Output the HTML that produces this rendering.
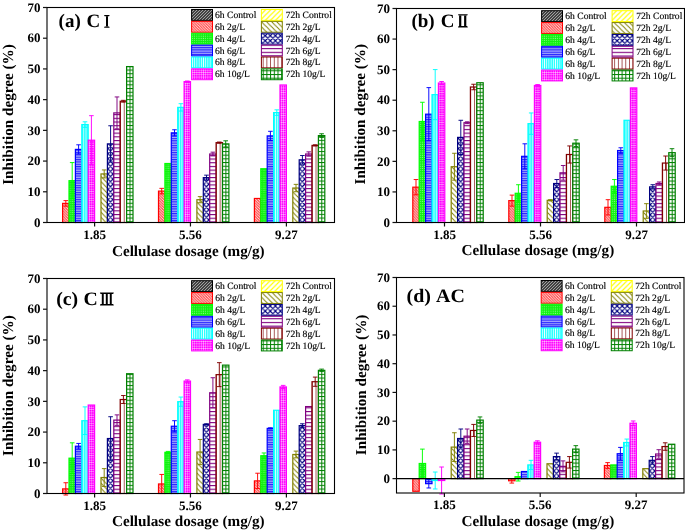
<!DOCTYPE html>
<html><head><meta charset="utf-8"><style>
html,body{margin:0;padding:0;background:#fff;}
svg{display:block;}
text{font-family:"Liberation Serif",serif;fill:#000;}
svg{will-change:transform;} text{text-rendering:geometricPrecision;}
.tk{font-size:13px;font-weight:bold;}
.ti{font-size:15.2px;font-weight:bold;}
.lb{font-size:19px;font-weight:bold;}
.lg{font-size:9.6px;fill:#000;stroke:#000;stroke-width:0.15px;}
</style></head><body>
<svg width="685" height="531" viewBox="0 0 685 531">
<rect width="685" height="531" fill="#fff"/>
<defs><pattern id="p0" patternUnits="userSpaceOnUse" width="3" height="3"><rect width="3" height="3" fill="#1a1a1a"/><path d="M-1,1 L1,-1 M0,3 L3,0 M2,4 L4,2" stroke="#a8a8a8" stroke-width="1.1"/></pattern><pattern id="p1" patternUnits="userSpaceOnUse" width="2.7" height="2.7"><rect width="2.7" height="2.7" fill="#ff0000"/><path d="M-1,1.7 L1,3.7 M0,0 L2.7,2.7 M1.7,-1 L3.7,1" stroke="#ffd8d8" stroke-width="1.15"/></pattern><pattern id="p2" patternUnits="userSpaceOnUse" width="2.2" height="2.2"><rect width="2.2" height="2.2" fill="#10f010"/><rect x="0.5" y="0.5" width="0.9" height="0.9" fill="#98ff98"/></pattern><pattern id="p3" patternUnits="userSpaceOnUse" width="2.35" height="2.35"><rect width="2.35" height="2.35" fill="#2828ff"/><rect y="1.2" width="2.35" height="1.0" fill="#c0c0ff"/></pattern><pattern id="p4" patternUnits="userSpaceOnUse" width="2.2" height="2"><rect width="2.2" height="2" fill="#00ffff"/><rect x="0.6" width="1.0" height="2" fill="#e8ffff"/></pattern><pattern id="p5" patternUnits="userSpaceOnUse" width="2.2" height="2.3"><rect width="2.2" height="2.3" fill="#ff00ff"/><rect x="0.7" width="0.6" height="2.3" fill="#ff90ff"/><rect y="0.8" width="2.2" height="0.6" fill="#ff90ff"/><rect x="0.7" y="0.8" width="0.6" height="0.6" fill="#ffd8ff"/></pattern><pattern id="p6" patternUnits="userSpaceOnUse" width="5.1" height="5.1"><rect width="5.1" height="5.1" fill="#fff"/><path d="M-1,1 L1,-1 M0,5.1 L5.1,0 M4.1,6.1 L6.1,4.1" stroke="#ffff00" stroke-width="1.15"/></pattern><pattern id="p7" patternUnits="userSpaceOnUse" width="5.1" height="5.1"><rect width="5.1" height="5.1" fill="#fff"/><path d="M-1,4.1 L1,6.1 M0,0 L5.1,5.1 M4.1,-1 L6.1,1" stroke="#808000" stroke-width="1.0"/></pattern><pattern id="p8" patternUnits="userSpaceOnUse" width="5.1" height="5.1"><rect width="5.1" height="5.1" fill="#fff"/><path d="M0,0 L5.1,5.1 M5.1,0 L0,5.1 M-1,1 L1,-1 M4.1,6.1 L6.1,4.1 M-1,4.1 L1,6.1 M4.1,-1 L6.1,1" stroke="#000080" stroke-width="1.15"/></pattern><pattern id="p9" patternUnits="userSpaceOnUse" width="3.7" height="3.7"><rect width="3.7" height="3.7" fill="#fff"/><rect y="0" width="3.7" height="1.1" fill="#800080"/></pattern><pattern id="p10" patternUnits="userSpaceOnUse" width="3.7" height="3.7"><rect width="3.7" height="3.7" fill="#fff"/><rect x="0" width="0.9" height="3.7" fill="#a04848"/></pattern><pattern id="p11" patternUnits="userSpaceOnUse" width="3.7" height="3.7"><rect width="3.7" height="3.7" fill="#fff"/><rect width="3.7" height="1.0" fill="#008000"/><rect width="1.0" height="3.7" fill="#008000"/></pattern></defs><pattern id="a0_1" href="#p1" x="62.6" y="222.5"/><rect x="62.6" y="203.38" width="6.4" height="19.12" fill="url(#a0_1)" stroke="#ff0000" stroke-width="1.2"/><pattern id="a0_2" href="#p2" x="69" y="222.5"/><rect x="69" y="180.68" width="6.4" height="41.82" fill="url(#a0_2)" stroke="#00ff00" stroke-width="1.2"/><pattern id="a0_3" href="#p3" x="75.4" y="222.5"/><rect x="75.4" y="149.4" width="6.4" height="73.1" fill="url(#a0_3)" stroke="#0000ff" stroke-width="1.2"/><pattern id="a0_4" href="#p4" x="82.7" y="222.5"/><rect x="81.8" y="124.56" width="6.4" height="97.94" fill="url(#a0_4)" stroke="#00ffff" stroke-width="1.2"/><pattern id="a0_5" href="#p5" x="88.5" y="222.5"/><rect x="88.2" y="140.2" width="6.4" height="82.3" fill="url(#a0_5)" stroke="#ff00ff" stroke-width="1.2"/><pattern id="a0_7" href="#p7" x="101" y="222.5"/><rect x="101" y="173.93" width="6.4" height="48.57" fill="url(#a0_7)" stroke="#808000" stroke-width="1.2"/><pattern id="a0_8" href="#p8" x="107.9" y="219.95"/><rect x="107.4" y="143.88" width="6.4" height="78.62" fill="url(#a0_8)" stroke="#000080" stroke-width="1.2"/><pattern id="a0_9" href="#p9" x="113.8" y="221.4"/><rect x="113.8" y="112.9" width="6.4" height="109.6" fill="url(#a0_9)" stroke="#800080" stroke-width="1.2"/><pattern id="a0_10" href="#p10" x="120.05" y="222.5"/><rect x="120.2" y="101.25" width="6.4" height="121.25" fill="url(#a0_10)" stroke="#800000" stroke-width="1.2"/><pattern id="a0_11" href="#p11" x="125.8" y="221.25"/><rect x="126.6" y="66.59" width="6.4" height="155.91" fill="url(#a0_11)" stroke="#008000" stroke-width="1.2"/><path d="M65.8,200.62 V206.14 M63.5,200.62 H68.1 M63.5,206.14 H68.1" stroke="#ff0000" stroke-width="0.95" fill="none"/><path d="M72.2,162.59 V198.78 M69.9,162.59 H74.5 M69.9,198.78 H74.5" stroke="#00ff00" stroke-width="0.95" fill="none"/><path d="M78.6,144.8 V154 M76.3,144.8 H80.9 M76.3,154 H80.9" stroke="#0000ff" stroke-width="0.95" fill="none"/><path d="M85,121.8 V127.32 M82.7,121.8 H87.3 M82.7,127.32 H87.3" stroke="#00ffff" stroke-width="0.95" fill="none"/><path d="M91.4,115.66 V164.73 M89.1,115.66 H93.7 M89.1,164.73 H93.7" stroke="#ff00ff" stroke-width="0.95" fill="none"/><path d="M104.2,169.95 V177.92 M101.9,169.95 H106.5 M101.9,177.92 H106.5" stroke="#808000" stroke-width="0.95" fill="none"/><path d="M110.6,125.78 V161.97 M108.3,125.78 H112.9 M108.3,161.97 H112.9" stroke="#000080" stroke-width="0.95" fill="none"/><path d="M117,96.95 V128.85 M114.7,96.95 H119.3 M114.7,128.85 H119.3" stroke="#800080" stroke-width="0.95" fill="none"/><path d="M123.4,100.33 V102.17 M121.1,100.33 H125.7 M121.1,102.17 H125.7" stroke="#800000" stroke-width="0.95" fill="none"/><pattern id="a1_1" href="#p1" x="158.5" y="222.5"/><rect x="158.5" y="191.11" width="6.4" height="31.39" fill="url(#a1_1)" stroke="#ff0000" stroke-width="1.2"/><pattern id="a1_2" href="#p2" x="164.9" y="222.5"/><rect x="164.9" y="163.51" width="6.4" height="58.99" fill="url(#a1_2)" stroke="#00ff00" stroke-width="1.2"/><pattern id="a1_3" href="#p3" x="171.3" y="222.5"/><rect x="171.3" y="132.84" width="6.4" height="89.66" fill="url(#a1_3)" stroke="#0000ff" stroke-width="1.2"/><pattern id="a1_4" href="#p4" x="178.6" y="222.5"/><rect x="177.7" y="107.38" width="6.4" height="115.12" fill="url(#a1_4)" stroke="#00ffff" stroke-width="1.2"/><pattern id="a1_5" href="#p5" x="184.4" y="222.5"/><rect x="184.1" y="81.62" width="6.4" height="140.88" fill="url(#a1_5)" stroke="#ff00ff" stroke-width="1.2"/><pattern id="a1_7" href="#p7" x="196.9" y="222.5"/><rect x="196.9" y="199.7" width="6.4" height="22.8" fill="url(#a1_7)" stroke="#808000" stroke-width="1.2"/><pattern id="a1_8" href="#p8" x="203.8" y="219.95"/><rect x="203.3" y="177.62" width="6.4" height="44.88" fill="url(#a1_8)" stroke="#000080" stroke-width="1.2"/><pattern id="a1_9" href="#p9" x="209.7" y="221.4"/><rect x="209.7" y="154" width="6.4" height="68.5" fill="url(#a1_9)" stroke="#800080" stroke-width="1.2"/><pattern id="a1_10" href="#p10" x="215.95" y="222.5"/><rect x="216.1" y="142.65" width="6.4" height="79.85" fill="url(#a1_10)" stroke="#800000" stroke-width="1.2"/><pattern id="a1_11" href="#p11" x="221.7" y="221.25"/><rect x="222.5" y="143.88" width="6.4" height="78.62" fill="url(#a1_11)" stroke="#008000" stroke-width="1.2"/><path d="M161.7,188.35 V193.87 M159.4,188.35 H164 M159.4,193.87 H164" stroke="#ff0000" stroke-width="0.95" fill="none"/><path d="M174.5,129.77 V135.9 M172.2,129.77 H176.8 M172.2,135.9 H176.8" stroke="#0000ff" stroke-width="0.95" fill="none"/><path d="M180.9,103.7 V111.06 M178.6,103.7 H183.2 M178.6,111.06 H183.2" stroke="#00ffff" stroke-width="0.95" fill="none"/><path d="M187.3,81 V82.23 M185,81 H189.6 M185,82.23 H189.6" stroke="#ff00ff" stroke-width="0.95" fill="none"/><path d="M200.1,196.63 V202.76 M197.8,196.63 H202.4 M197.8,202.76 H202.4" stroke="#808000" stroke-width="0.95" fill="none"/><path d="M206.5,175.16 V180.07 M204.2,175.16 H208.8 M204.2,180.07 H208.8" stroke="#000080" stroke-width="0.95" fill="none"/><path d="M212.9,152.16 V155.84 M210.6,152.16 H215.2 M210.6,155.84 H215.2" stroke="#800080" stroke-width="0.95" fill="none"/><path d="M219.3,142.04 V143.26 M217,142.04 H221.6 M217,143.26 H221.6" stroke="#800000" stroke-width="0.95" fill="none"/><path d="M225.7,140.81 V146.95 M223.4,140.81 H228 M223.4,146.95 H228" stroke="#008000" stroke-width="0.95" fill="none"/><pattern id="a2_1" href="#p1" x="254.4" y="222.5"/><rect x="254.4" y="198.47" width="6.4" height="24.03" fill="url(#a2_1)" stroke="#ff0000" stroke-width="1.2"/><pattern id="a2_2" href="#p2" x="260.8" y="222.5"/><rect x="260.8" y="168.72" width="6.4" height="53.78" fill="url(#a2_2)" stroke="#00ff00" stroke-width="1.2"/><pattern id="a2_3" href="#p3" x="267.2" y="222.5"/><rect x="267.2" y="135.9" width="6.4" height="86.6" fill="url(#a2_3)" stroke="#0000ff" stroke-width="1.2"/><pattern id="a2_4" href="#p4" x="274.5" y="222.5"/><rect x="273.6" y="112.59" width="6.4" height="109.91" fill="url(#a2_4)" stroke="#00ffff" stroke-width="1.2"/><pattern id="a2_5" href="#p5" x="280.3" y="222.5"/><rect x="280" y="84.99" width="6.4" height="137.51" fill="url(#a2_5)" stroke="#ff00ff" stroke-width="1.2"/><pattern id="a2_7" href="#p7" x="292.8" y="222.5"/><rect x="292.8" y="188.04" width="6.4" height="34.46" fill="url(#a2_7)" stroke="#808000" stroke-width="1.2"/><pattern id="a2_8" href="#p8" x="299.7" y="219.95"/><rect x="299.2" y="159.83" width="6.4" height="62.67" fill="url(#a2_8)" stroke="#000080" stroke-width="1.2"/><pattern id="a2_9" href="#p9" x="305.6" y="221.4"/><rect x="305.6" y="154" width="6.4" height="68.5" fill="url(#a2_9)" stroke="#800080" stroke-width="1.2"/><pattern id="a2_10" href="#p10" x="311.85" y="222.5"/><rect x="312" y="145.41" width="6.4" height="77.09" fill="url(#a2_10)" stroke="#800000" stroke-width="1.2"/><pattern id="a2_11" href="#p11" x="317.6" y="221.25"/><rect x="318.4" y="135.6" width="6.4" height="86.9" fill="url(#a2_11)" stroke="#008000" stroke-width="1.2"/><path d="M270.4,131.3 V140.5 M268.1,131.3 H272.7 M268.1,140.5 H272.7" stroke="#0000ff" stroke-width="0.95" fill="none"/><path d="M276.8,109.83 V115.36 M274.5,109.83 H279.1 M274.5,115.36 H279.1" stroke="#00ffff" stroke-width="0.95" fill="none"/><path d="M296,184.36 V191.72 M293.7,184.36 H298.3 M293.7,191.72 H298.3" stroke="#808000" stroke-width="0.95" fill="none"/><path d="M302.4,155.53 V164.12 M300.1,155.53 H304.7 M300.1,164.12 H304.7" stroke="#000080" stroke-width="0.95" fill="none"/><path d="M308.8,151.85 V156.15 M306.5,151.85 H311.1 M306.5,156.15 H311.1" stroke="#800080" stroke-width="0.95" fill="none"/><path d="M315.2,144.8 V146.03 M312.9,144.8 H317.5 M312.9,146.03 H317.5" stroke="#800000" stroke-width="0.95" fill="none"/><path d="M321.6,133.76 V137.44 M319.3,133.76 H323.9 M319.3,137.44 H323.9" stroke="#008000" stroke-width="0.95" fill="none"/><rect x="47" y="7.5" width="287.5" height="215" fill="none" stroke="#000" stroke-width="1.1"/><line x1="43" y1="222.5" x2="47" y2="222.5" stroke="#111" stroke-width="1.2"/><text x="40.4" y="226.7" class="tk" text-anchor="end">0</text><line x1="43" y1="191.79" x2="47" y2="191.79" stroke="#111" stroke-width="1.2"/><text x="40.4" y="195.99" class="tk" text-anchor="end">10</text><line x1="43" y1="161.07" x2="47" y2="161.07" stroke="#111" stroke-width="1.2"/><text x="40.4" y="165.27" class="tk" text-anchor="end">20</text><line x1="43" y1="130.36" x2="47" y2="130.36" stroke="#111" stroke-width="1.2"/><text x="40.4" y="134.56" class="tk" text-anchor="end">30</text><line x1="43" y1="99.64" x2="47" y2="99.64" stroke="#111" stroke-width="1.2"/><text x="40.4" y="103.84" class="tk" text-anchor="end">40</text><line x1="43" y1="68.93" x2="47" y2="68.93" stroke="#111" stroke-width="1.2"/><text x="40.4" y="73.13" class="tk" text-anchor="end">50</text><line x1="43" y1="38.21" x2="47" y2="38.21" stroke="#111" stroke-width="1.2"/><text x="40.4" y="42.41" class="tk" text-anchor="end">60</text><line x1="43" y1="7.5" x2="47" y2="7.5" stroke="#111" stroke-width="1.2"/><text x="40.4" y="11.7" class="tk" text-anchor="end">70</text><line x1="94.6" y1="222.5" x2="94.6" y2="226.5" stroke="#111" stroke-width="1.2"/><text x="94.6" y="238.9" class="tk" text-anchor="middle">1.85</text><line x1="190.45" y1="222.5" x2="190.45" y2="226.5" stroke="#111" stroke-width="1.2"/><text x="190.45" y="238.9" class="tk" text-anchor="middle">5.56</text><line x1="286.4" y1="222.5" x2="286.4" y2="226.5" stroke="#111" stroke-width="1.2"/><text x="286.4" y="238.9" class="tk" text-anchor="middle">9.27</text><text x="188.3" y="255.9" class="ti" text-anchor="middle">Cellulase dosage (mg/g)</text><text class="ti" text-anchor="middle" transform="translate(12.7,114.5) rotate(-90)">Inhibition degree (%)</text><text class="lb" transform="translate(58.6,27) scale(1,1)">(a)<tspan dx="0.9"> C</tspan></text><path d="M104,14.9 L109.7,14.9 L109.1,16.3 L104.6,16.3 Z" fill="#000"/><path d="M104.6,26.4 L109.1,26.4 L109.7,27.8 L104,27.8 Z" fill="#000"/><rect x="106" y="16.2" width="2" height="10.3" fill="#000"/><rect x="191.6" y="9.5" width="20.9" height="10.87" fill="url(#p0)" stroke="#000000" stroke-width="1"/><text x="215" y="18" class="lg">6h Control</text><rect x="191.6" y="21.37" width="20.9" height="10.87" fill="url(#p1)" stroke="#ff0000" stroke-width="1"/><text x="215" y="29.87" class="lg">6h 2g/L</text><rect x="191.6" y="33.24" width="20.9" height="10.87" fill="url(#p2)" stroke="#00ff00" stroke-width="1"/><text x="215" y="41.74" class="lg">6h 4g/L</text><rect x="191.6" y="45.11" width="20.9" height="10.87" fill="url(#p3)" stroke="#0000ff" stroke-width="1"/><text x="215" y="53.61" class="lg">6h 6g/L</text><rect x="191.6" y="56.98" width="20.9" height="10.87" fill="url(#p4)" stroke="#00ffff" stroke-width="1"/><text x="215" y="65.48" class="lg">6h 8g/L</text><rect x="191.6" y="68.85" width="20.9" height="10.87" fill="url(#p5)" stroke="#ff00ff" stroke-width="1"/><text x="215" y="77.35" class="lg">6h 10g/L</text><rect x="261.4" y="9.5" width="20.9" height="10.87" fill="url(#p6)" stroke="#ffff00" stroke-width="1"/><text x="285.7" y="18" class="lg">72h Control</text><rect x="261.4" y="21.37" width="20.9" height="10.87" fill="url(#p7)" stroke="#808000" stroke-width="1"/><text x="285.7" y="29.87" class="lg">72h 2g/L</text><rect x="261.4" y="33.24" width="20.9" height="10.87" fill="url(#p8)" stroke="#000080" stroke-width="1"/><text x="285.7" y="41.74" class="lg">72h 4g/L</text><rect x="261.4" y="45.11" width="20.9" height="10.87" fill="url(#p9)" stroke="#800080" stroke-width="1"/><text x="285.7" y="53.61" class="lg">72h 6g/L</text><rect x="261.4" y="56.98" width="20.9" height="10.87" fill="url(#p10)" stroke="#800000" stroke-width="1"/><text x="285.7" y="65.48" class="lg">72h 8g/L</text><rect x="261.4" y="68.85" width="20.9" height="10.87" fill="url(#p11)" stroke="#008000" stroke-width="1"/><text x="285.7" y="77.35" class="lg">72h 10g/L</text><pattern id="b0_1" href="#p1" x="412.8" y="222.5"/><rect x="412.8" y="187.17" width="6.4" height="35.33" fill="url(#b0_1)" stroke="#ff0000" stroke-width="1.2"/><pattern id="b0_2" href="#p2" x="419.2" y="222.5"/><rect x="419.2" y="121.51" width="6.4" height="100.99" fill="url(#b0_2)" stroke="#00ff00" stroke-width="1.2"/><pattern id="b0_3" href="#p3" x="425.6" y="222.5"/><rect x="425.6" y="114.18" width="6.4" height="108.32" fill="url(#b0_3)" stroke="#0000ff" stroke-width="1.2"/><pattern id="b0_4" href="#p4" x="432.9" y="222.5"/><rect x="432" y="94.64" width="6.4" height="127.86" fill="url(#b0_4)" stroke="#00ffff" stroke-width="1.2"/><pattern id="b0_5" href="#p5" x="438.7" y="222.5"/><rect x="438.4" y="83.03" width="6.4" height="139.47" fill="url(#b0_5)" stroke="#ff00ff" stroke-width="1.2"/><pattern id="b0_7" href="#p7" x="451.2" y="222.5"/><rect x="451.2" y="166.71" width="6.4" height="55.79" fill="url(#b0_7)" stroke="#808000" stroke-width="1.2"/><pattern id="b0_8" href="#p8" x="458.1" y="219.95"/><rect x="457.6" y="137.39" width="6.4" height="85.11" fill="url(#b0_8)" stroke="#000080" stroke-width="1.2"/><pattern id="b0_9" href="#p9" x="464" y="221.4"/><rect x="464" y="122.73" width="6.4" height="99.77" fill="url(#b0_9)" stroke="#800080" stroke-width="1.2"/><pattern id="b0_10" href="#p10" x="470.25" y="222.5"/><rect x="470.4" y="87" width="6.4" height="135.5" fill="url(#b0_10)" stroke="#800000" stroke-width="1.2"/><pattern id="b0_11" href="#p11" x="476" y="221.25"/><rect x="476.8" y="82.73" width="6.4" height="139.77" fill="url(#b0_11)" stroke="#008000" stroke-width="1.2"/><path d="M416,179.54 V194.81 M413.7,179.54 H418.3 M413.7,194.81 H418.3" stroke="#ff0000" stroke-width="0.95" fill="none"/><path d="M422.4,102.27 V140.75 M420.1,102.27 H424.7 M420.1,140.75 H424.7" stroke="#00ff00" stroke-width="0.95" fill="none"/><path d="M428.8,87.61 V140.75 M426.5,87.61 H431.1 M426.5,140.75 H431.1" stroke="#0000ff" stroke-width="0.95" fill="none"/><path d="M435.2,69.59 V119.68 M432.9,69.59 H437.5 M432.9,119.68 H437.5" stroke="#00ffff" stroke-width="0.95" fill="none"/><path d="M441.6,81.51 V84.56 M439.3,81.51 H443.9 M439.3,84.56 H443.9" stroke="#ff00ff" stroke-width="0.95" fill="none"/><path d="M454.4,153.27 V180.15 M452.1,153.27 H456.7 M452.1,180.15 H456.7" stroke="#808000" stroke-width="0.95" fill="none"/><path d="M460.8,120.29 V154.5 M458.5,120.29 H463.1 M458.5,154.5 H463.1" stroke="#000080" stroke-width="0.95" fill="none"/><path d="M467.2,121.82 V123.65 M464.9,121.82 H469.5 M464.9,123.65 H469.5" stroke="#800080" stroke-width="0.95" fill="none"/><path d="M473.6,84.25 V89.75 M471.3,84.25 H475.9 M471.3,89.75 H475.9" stroke="#800000" stroke-width="0.95" fill="none"/><pattern id="b1_1" href="#p1" x="508.8" y="222.5"/><rect x="508.8" y="200.61" width="6.4" height="21.89" fill="url(#b1_1)" stroke="#ff0000" stroke-width="1.2"/><pattern id="b1_2" href="#p2" x="515.2" y="222.5"/><rect x="515.2" y="193.28" width="6.4" height="29.22" fill="url(#b1_2)" stroke="#00ff00" stroke-width="1.2"/><pattern id="b1_3" href="#p3" x="521.6" y="222.5"/><rect x="521.6" y="156.33" width="6.4" height="66.17" fill="url(#b1_3)" stroke="#0000ff" stroke-width="1.2"/><pattern id="b1_4" href="#p4" x="528.9" y="222.5"/><rect x="528" y="123.65" width="6.4" height="98.85" fill="url(#b1_4)" stroke="#00ffff" stroke-width="1.2"/><pattern id="b1_5" href="#p5" x="534.7" y="222.5"/><rect x="534.4" y="85.48" width="6.4" height="137.02" fill="url(#b1_5)" stroke="#ff00ff" stroke-width="1.2"/><pattern id="b1_7" href="#p7" x="547.2" y="222.5"/><rect x="547.2" y="200.31" width="6.4" height="22.19" fill="url(#b1_7)" stroke="#808000" stroke-width="1.2"/><pattern id="b1_8" href="#p8" x="554.1" y="219.95"/><rect x="553.6" y="183.51" width="6.4" height="38.99" fill="url(#b1_8)" stroke="#000080" stroke-width="1.2"/><pattern id="b1_9" href="#p9" x="560" y="221.4"/><rect x="560" y="172.82" width="6.4" height="49.68" fill="url(#b1_9)" stroke="#800080" stroke-width="1.2"/><pattern id="b1_10" href="#p10" x="566.25" y="222.5"/><rect x="566.4" y="154.5" width="6.4" height="68" fill="url(#b1_10)" stroke="#800000" stroke-width="1.2"/><pattern id="b1_11" href="#p11" x="572" y="221.25"/><rect x="572.8" y="143.2" width="6.4" height="79.3" fill="url(#b1_11)" stroke="#008000" stroke-width="1.2"/><path d="M512,195.11 V206.11 M509.7,195.11 H514.3 M509.7,206.11 H514.3" stroke="#ff0000" stroke-width="0.95" fill="none"/><path d="M518.4,184.73 V201.83 M516.1,184.73 H520.7 M516.1,201.83 H520.7" stroke="#00ff00" stroke-width="0.95" fill="none"/><path d="M524.8,143.81 V168.85 M522.5,143.81 H527.1 M522.5,168.85 H527.1" stroke="#0000ff" stroke-width="0.95" fill="none"/><path d="M531.2,112.96 V134.34 M528.9,112.96 H533.5 M528.9,134.34 H533.5" stroke="#00ffff" stroke-width="0.95" fill="none"/><path d="M537.6,84.56 V86.39 M535.3,84.56 H539.9 M535.3,86.39 H539.9" stroke="#ff00ff" stroke-width="0.95" fill="none"/><path d="M550.4,199.69 V200.92 M548.1,199.69 H552.7 M548.1,200.92 H552.7" stroke="#808000" stroke-width="0.95" fill="none"/><path d="M556.8,179.54 V187.48 M554.5,179.54 H559.1 M554.5,187.48 H559.1" stroke="#000080" stroke-width="0.95" fill="none"/><path d="M563.2,165.49 V180.15 M560.9,165.49 H565.5 M560.9,180.15 H565.5" stroke="#800080" stroke-width="0.95" fill="none"/><path d="M569.6,145.94 V163.05 M567.3,145.94 H571.9 M567.3,163.05 H571.9" stroke="#800000" stroke-width="0.95" fill="none"/><path d="M576,139.84 V146.56 M573.7,139.84 H578.3 M573.7,146.56 H578.3" stroke="#008000" stroke-width="0.95" fill="none"/><pattern id="b2_1" href="#p1" x="604.8" y="222.5"/><rect x="604.8" y="207.33" width="6.4" height="15.17" fill="url(#b2_1)" stroke="#ff0000" stroke-width="1.2"/><pattern id="b2_2" href="#p2" x="611.2" y="222.5"/><rect x="611.2" y="186.26" width="6.4" height="36.24" fill="url(#b2_2)" stroke="#00ff00" stroke-width="1.2"/><pattern id="b2_3" href="#p3" x="617.6" y="222.5"/><rect x="617.6" y="150.53" width="6.4" height="71.97" fill="url(#b2_3)" stroke="#0000ff" stroke-width="1.2"/><pattern id="b2_4" href="#p4" x="624.9" y="222.5"/><rect x="624" y="120.29" width="6.4" height="102.21" fill="url(#b2_4)" stroke="#00ffff" stroke-width="1.2"/><pattern id="b2_5" href="#p5" x="630.7" y="222.5"/><rect x="630.4" y="87.92" width="6.4" height="134.58" fill="url(#b2_5)" stroke="#ff00ff" stroke-width="1.2"/><pattern id="b2_7" href="#p7" x="643.2" y="222.5"/><rect x="643.2" y="210.99" width="6.4" height="11.51" fill="url(#b2_7)" stroke="#808000" stroke-width="1.2"/><pattern id="b2_8" href="#p8" x="650.1" y="219.95"/><rect x="649.6" y="186.87" width="6.4" height="35.63" fill="url(#b2_8)" stroke="#000080" stroke-width="1.2"/><pattern id="b2_9" href="#p9" x="656" y="221.4"/><rect x="656" y="183.51" width="6.4" height="38.99" fill="url(#b2_9)" stroke="#800080" stroke-width="1.2"/><pattern id="b2_10" href="#p10" x="662.25" y="222.5"/><rect x="662.4" y="163.05" width="6.4" height="59.45" fill="url(#b2_10)" stroke="#800000" stroke-width="1.2"/><pattern id="b2_11" href="#p11" x="668" y="221.25"/><rect x="668.8" y="152.66" width="6.4" height="69.84" fill="url(#b2_11)" stroke="#008000" stroke-width="1.2"/><path d="M608,199.69 V214.96 M605.7,199.69 H610.3 M605.7,214.96 H610.3" stroke="#ff0000" stroke-width="0.95" fill="none"/><path d="M614.4,179.54 V192.98 M612.1,179.54 H616.7 M612.1,192.98 H616.7" stroke="#00ff00" stroke-width="0.95" fill="none"/><path d="M620.8,147.78 V153.27 M618.5,147.78 H623.1 M618.5,153.27 H623.1" stroke="#0000ff" stroke-width="0.95" fill="none"/><path d="M646.4,203.67 V218.32 M644.1,203.67 H648.7 M644.1,218.32 H648.7" stroke="#808000" stroke-width="0.95" fill="none"/><path d="M652.8,184.73 V189.01 M650.5,184.73 H655.1 M650.5,189.01 H655.1" stroke="#000080" stroke-width="0.95" fill="none"/><path d="M659.2,181.98 V185.04 M656.9,181.98 H661.5 M656.9,185.04 H661.5" stroke="#800080" stroke-width="0.95" fill="none"/><path d="M665.6,156.02 V170.07 M663.3,156.02 H667.9 M663.3,170.07 H667.9" stroke="#800000" stroke-width="0.95" fill="none"/><path d="M672,148.69 V156.63 M669.7,148.69 H674.3 M669.7,156.63 H674.3" stroke="#008000" stroke-width="0.95" fill="none"/><rect x="396.5" y="8.5" width="288" height="214" fill="none" stroke="#000" stroke-width="1.1"/><line x1="392.5" y1="222.5" x2="396.5" y2="222.5" stroke="#111" stroke-width="1.2"/><text x="389.9" y="226.7" class="tk" text-anchor="end">0</text><line x1="392.5" y1="191.93" x2="396.5" y2="191.93" stroke="#111" stroke-width="1.2"/><text x="389.9" y="196.13" class="tk" text-anchor="end">10</text><line x1="392.5" y1="161.36" x2="396.5" y2="161.36" stroke="#111" stroke-width="1.2"/><text x="389.9" y="165.56" class="tk" text-anchor="end">20</text><line x1="392.5" y1="130.79" x2="396.5" y2="130.79" stroke="#111" stroke-width="1.2"/><text x="389.9" y="134.99" class="tk" text-anchor="end">30</text><line x1="392.5" y1="100.21" x2="396.5" y2="100.21" stroke="#111" stroke-width="1.2"/><text x="389.9" y="104.41" class="tk" text-anchor="end">40</text><line x1="392.5" y1="69.64" x2="396.5" y2="69.64" stroke="#111" stroke-width="1.2"/><text x="389.9" y="73.84" class="tk" text-anchor="end">50</text><line x1="392.5" y1="39.07" x2="396.5" y2="39.07" stroke="#111" stroke-width="1.2"/><text x="389.9" y="43.27" class="tk" text-anchor="end">60</text><line x1="392.5" y1="8.5" x2="396.5" y2="8.5" stroke="#111" stroke-width="1.2"/><text x="389.9" y="12.7" class="tk" text-anchor="end">70</text><line x1="444.5" y1="222.5" x2="444.5" y2="226.5" stroke="#111" stroke-width="1.2"/><text x="444.5" y="239" class="tk" text-anchor="middle">1.85</text><line x1="540.5" y1="222.5" x2="540.5" y2="226.5" stroke="#111" stroke-width="1.2"/><text x="540.5" y="239" class="tk" text-anchor="middle">5.56</text><line x1="636.5" y1="222.5" x2="636.5" y2="226.5" stroke="#111" stroke-width="1.2"/><text x="636.5" y="239" class="tk" text-anchor="middle">9.27</text><text x="537.9" y="255" class="ti" text-anchor="middle">Cellulase dosage (mg/g)</text><text class="ti" text-anchor="middle" transform="translate(364.9,114.2) rotate(-90)">Inhibition degree (%)</text><text class="lb" transform="translate(411.4,26.9) scale(1,1)">(b)<tspan dx="1.3"> C</tspan></text><path d="M458,14.2 L467.8,14.2 L467.2,15.6 L458.6,15.6 Z" fill="#000"/><path d="M458.6,26 L467.2,26 L467.8,27.4 L458,27.4 Z" fill="#000"/><rect x="459.1" y="15.5" width="2.2" height="10.6" fill="#000"/><rect x="464.1" y="15.5" width="2.2" height="10.6" fill="#000"/><rect x="541.6" y="10.7" width="20.9" height="10.87" fill="url(#p0)" stroke="#000000" stroke-width="1"/><text x="565.3" y="19.2" class="lg">6h Control</text><rect x="541.6" y="22.57" width="20.9" height="10.87" fill="url(#p1)" stroke="#ff0000" stroke-width="1"/><text x="565.3" y="31.07" class="lg">6h 2g/L</text><rect x="541.6" y="34.44" width="20.9" height="10.87" fill="url(#p2)" stroke="#00ff00" stroke-width="1"/><text x="565.3" y="42.94" class="lg">6h 4g/L</text><rect x="541.6" y="46.31" width="20.9" height="10.87" fill="url(#p3)" stroke="#0000ff" stroke-width="1"/><text x="565.3" y="54.81" class="lg">6h 6g/L</text><rect x="541.6" y="58.18" width="20.9" height="10.87" fill="url(#p4)" stroke="#00ffff" stroke-width="1"/><text x="565.3" y="66.68" class="lg">6h 8g/L</text><rect x="541.6" y="70.05" width="20.9" height="10.87" fill="url(#p5)" stroke="#ff00ff" stroke-width="1"/><text x="565.3" y="78.55" class="lg">6h 10g/L</text><rect x="612.1" y="10.7" width="20.9" height="10.87" fill="url(#p6)" stroke="#ffff00" stroke-width="1"/><text x="636.2" y="19.2" class="lg">72h Control</text><rect x="612.1" y="22.57" width="20.9" height="10.87" fill="url(#p7)" stroke="#808000" stroke-width="1"/><text x="636.2" y="31.07" class="lg">72h 2g/L</text><rect x="612.1" y="34.44" width="20.9" height="10.87" fill="url(#p8)" stroke="#000080" stroke-width="1"/><text x="636.2" y="42.94" class="lg">72h 4g/L</text><rect x="612.1" y="46.31" width="20.9" height="10.87" fill="url(#p9)" stroke="#800080" stroke-width="1"/><text x="636.2" y="54.81" class="lg">72h 6g/L</text><rect x="612.1" y="58.18" width="20.9" height="10.87" fill="url(#p10)" stroke="#800000" stroke-width="1"/><text x="636.2" y="66.68" class="lg">72h 8g/L</text><rect x="612.1" y="70.05" width="20.9" height="10.87" fill="url(#p11)" stroke="#008000" stroke-width="1"/><text x="636.2" y="78.55" class="lg">72h 10g/L</text><pattern id="c0_1" href="#p1" x="62.6" y="493.5"/><rect x="62.6" y="488.89" width="6.4" height="4.61" fill="url(#c0_1)" stroke="#ff0000" stroke-width="1.2"/><pattern id="c0_2" href="#p2" x="69" y="493.5"/><rect x="69" y="458.18" width="6.4" height="35.32" fill="url(#c0_2)" stroke="#00ff00" stroke-width="1.2"/><pattern id="c0_3" href="#p3" x="75.4" y="493.5"/><rect x="75.4" y="446.2" width="6.4" height="47.3" fill="url(#c0_3)" stroke="#0000ff" stroke-width="1.2"/><pattern id="c0_4" href="#p4" x="82.7" y="493.5"/><rect x="81.8" y="420.71" width="6.4" height="72.79" fill="url(#c0_4)" stroke="#00ffff" stroke-width="1.2"/><pattern id="c0_5" href="#p5" x="88.5" y="493.5"/><rect x="88.2" y="405.05" width="6.4" height="88.45" fill="url(#c0_5)" stroke="#ff00ff" stroke-width="1.2"/><pattern id="c0_7" href="#p7" x="101" y="493.5"/><rect x="101" y="477.52" width="6.4" height="15.98" fill="url(#c0_7)" stroke="#808000" stroke-width="1.2"/><pattern id="c0_8" href="#p8" x="107.9" y="490.95"/><rect x="107.4" y="438.52" width="6.4" height="54.98" fill="url(#c0_8)" stroke="#000080" stroke-width="1.2"/><pattern id="c0_9" href="#p9" x="113.8" y="492.4"/><rect x="113.8" y="420.1" width="6.4" height="73.4" fill="url(#c0_9)" stroke="#800080" stroke-width="1.2"/><pattern id="c0_10" href="#p10" x="120.05" y="493.5"/><rect x="120.2" y="399.52" width="6.4" height="93.98" fill="url(#c0_10)" stroke="#800000" stroke-width="1.2"/><pattern id="c0_11" href="#p11" x="125.8" y="492.25"/><rect x="126.6" y="373.72" width="6.4" height="119.78" fill="url(#c0_11)" stroke="#008000" stroke-width="1.2"/><path d="M65.8,482.74 V495.03 M63.5,482.74 H68.1 M63.5,495.03 H68.1" stroke="#ff0000" stroke-width="0.95" fill="none"/><path d="M72.2,442.82 V473.53 M69.9,442.82 H74.5 M69.9,473.53 H74.5" stroke="#00ff00" stroke-width="0.95" fill="none"/><path d="M78.6,443.44 V448.96 M76.3,443.44 H80.9 M76.3,448.96 H80.9" stroke="#0000ff" stroke-width="0.95" fill="none"/><path d="M85,406.89 V434.53 M82.7,406.89 H87.3 M82.7,434.53 H87.3" stroke="#00ffff" stroke-width="0.95" fill="none"/><path d="M104.2,468.62 V486.43 M101.9,468.62 H106.5 M101.9,486.43 H106.5" stroke="#808000" stroke-width="0.95" fill="none"/><path d="M110.6,416.72 V460.33 M108.3,416.72 H112.9 M108.3,460.33 H112.9" stroke="#000080" stroke-width="0.95" fill="none"/><path d="M117,414.88 V425.32 M114.7,414.88 H119.3 M114.7,425.32 H119.3" stroke="#800080" stroke-width="0.95" fill="none"/><path d="M123.4,395.53 V403.51 M121.1,395.53 H125.7 M121.1,403.51 H125.7" stroke="#800000" stroke-width="0.95" fill="none"/><pattern id="c1_1" href="#p1" x="158.5" y="493.5"/><rect x="158.5" y="483.97" width="6.4" height="9.53" fill="url(#c1_1)" stroke="#ff0000" stroke-width="1.2"/><pattern id="c1_2" href="#p2" x="164.9" y="493.5"/><rect x="164.9" y="452.34" width="6.4" height="41.16" fill="url(#c1_2)" stroke="#00ff00" stroke-width="1.2"/><pattern id="c1_3" href="#p3" x="171.3" y="493.5"/><rect x="171.3" y="426.24" width="6.4" height="67.26" fill="url(#c1_3)" stroke="#0000ff" stroke-width="1.2"/><pattern id="c1_4" href="#p4" x="178.6" y="493.5"/><rect x="177.7" y="401.67" width="6.4" height="91.83" fill="url(#c1_4)" stroke="#00ffff" stroke-width="1.2"/><pattern id="c1_5" href="#p5" x="184.4" y="493.5"/><rect x="184.1" y="381.09" width="6.4" height="112.41" fill="url(#c1_5)" stroke="#ff00ff" stroke-width="1.2"/><pattern id="c1_7" href="#p7" x="196.9" y="493.5"/><rect x="196.9" y="452.03" width="6.4" height="41.47" fill="url(#c1_7)" stroke="#808000" stroke-width="1.2"/><pattern id="c1_8" href="#p8" x="203.8" y="490.95"/><rect x="203.3" y="424.4" width="6.4" height="69.1" fill="url(#c1_8)" stroke="#000080" stroke-width="1.2"/><pattern id="c1_9" href="#p9" x="209.7" y="492.4"/><rect x="209.7" y="392.76" width="6.4" height="100.74" fill="url(#c1_9)" stroke="#800080" stroke-width="1.2"/><pattern id="c1_10" href="#p10" x="215.95" y="493.5"/><rect x="216.1" y="374.65" width="6.4" height="118.85" fill="url(#c1_10)" stroke="#800000" stroke-width="1.2"/><pattern id="c1_11" href="#p11" x="221.7" y="492.25"/><rect x="222.5" y="365.13" width="6.4" height="128.37" fill="url(#c1_11)" stroke="#008000" stroke-width="1.2"/><path d="M161.7,474.45 V493.49 M159.4,474.45 H164 M159.4,493.49 H164" stroke="#ff0000" stroke-width="0.95" fill="none"/><path d="M168.1,451.42 V453.26 M165.8,451.42 H170.4 M165.8,453.26 H170.4" stroke="#00ff00" stroke-width="0.95" fill="none"/><path d="M174.5,420.71 V431.77 M172.2,420.71 H176.8 M172.2,431.77 H176.8" stroke="#0000ff" stroke-width="0.95" fill="none"/><path d="M180.9,397.06 V406.28 M178.6,397.06 H183.2 M178.6,406.28 H183.2" stroke="#00ffff" stroke-width="0.95" fill="none"/><path d="M187.3,379.87 V382.32 M185,379.87 H189.6 M185,382.32 H189.6" stroke="#ff00ff" stroke-width="0.95" fill="none"/><path d="M200.1,439.44 V464.63 M197.8,439.44 H202.4 M197.8,464.63 H202.4" stroke="#808000" stroke-width="0.95" fill="none"/><path d="M206.5,423.78 V425.01 M204.2,423.78 H208.8 M204.2,425.01 H208.8" stroke="#000080" stroke-width="0.95" fill="none"/><path d="M212.9,377.72 V407.81 M210.6,377.72 H215.2 M210.6,407.81 H215.2" stroke="#800080" stroke-width="0.95" fill="none"/><path d="M219.3,362.67 V386.62 M217,362.67 H221.6 M217,386.62 H221.6" stroke="#800000" stroke-width="0.95" fill="none"/><pattern id="c2_1" href="#p1" x="254.4" y="493.5"/><rect x="254.4" y="480.9" width="6.4" height="12.6" fill="url(#c2_1)" stroke="#ff0000" stroke-width="1.2"/><pattern id="c2_2" href="#p2" x="260.8" y="493.5"/><rect x="260.8" y="455.72" width="6.4" height="37.78" fill="url(#c2_2)" stroke="#00ff00" stroke-width="1.2"/><pattern id="c2_3" href="#p3" x="267.2" y="493.5"/><rect x="267.2" y="428.39" width="6.4" height="65.11" fill="url(#c2_3)" stroke="#0000ff" stroke-width="1.2"/><pattern id="c2_4" href="#p4" x="274.5" y="493.5"/><rect x="273.6" y="410.27" width="6.4" height="83.23" fill="url(#c2_4)" stroke="#00ffff" stroke-width="1.2"/><pattern id="c2_5" href="#p5" x="280.3" y="493.5"/><rect x="280" y="386.93" width="6.4" height="106.57" fill="url(#c2_5)" stroke="#ff00ff" stroke-width="1.2"/><pattern id="c2_7" href="#p7" x="292.8" y="493.5"/><rect x="292.8" y="454.49" width="6.4" height="39.01" fill="url(#c2_7)" stroke="#808000" stroke-width="1.2"/><pattern id="c2_8" href="#p8" x="299.7" y="490.95"/><rect x="299.2" y="425.62" width="6.4" height="67.88" fill="url(#c2_8)" stroke="#000080" stroke-width="1.2"/><pattern id="c2_9" href="#p9" x="305.6" y="492.4"/><rect x="305.6" y="406.58" width="6.4" height="86.92" fill="url(#c2_9)" stroke="#800080" stroke-width="1.2"/><pattern id="c2_10" href="#p10" x="311.85" y="493.5"/><rect x="312" y="381.71" width="6.4" height="111.79" fill="url(#c2_10)" stroke="#800000" stroke-width="1.2"/><pattern id="c2_11" href="#p11" x="317.6" y="492.25"/><rect x="318.4" y="370.35" width="6.4" height="123.15" fill="url(#c2_11)" stroke="#008000" stroke-width="1.2"/><path d="M257.6,473.22 V488.58 M255.3,473.22 H259.9 M255.3,488.58 H259.9" stroke="#ff0000" stroke-width="0.95" fill="none"/><path d="M264,452.96 V458.48 M261.7,452.96 H266.3 M261.7,458.48 H266.3" stroke="#00ff00" stroke-width="0.95" fill="none"/><path d="M270.4,427.77 V429 M268.1,427.77 H272.7 M268.1,429 H272.7" stroke="#0000ff" stroke-width="0.95" fill="none"/><path d="M283.2,385.39 V388.46 M280.9,385.39 H285.5 M280.9,388.46 H285.5" stroke="#ff00ff" stroke-width="0.95" fill="none"/><path d="M296,451.11 V457.87 M293.7,451.11 H298.3 M293.7,457.87 H298.3" stroke="#808000" stroke-width="0.95" fill="none"/><path d="M302.4,423.78 V427.47 M300.1,423.78 H304.7 M300.1,427.47 H304.7" stroke="#000080" stroke-width="0.95" fill="none"/><path d="M315.2,377.1 V386.31 M312.9,377.1 H317.5 M312.9,386.31 H317.5" stroke="#800000" stroke-width="0.95" fill="none"/><path d="M321.6,369.12 V371.57 M319.3,369.12 H323.9 M319.3,371.57 H323.9" stroke="#008000" stroke-width="0.95" fill="none"/><rect x="47" y="278.5" width="287.5" height="215" fill="none" stroke="#000" stroke-width="1.1"/><line x1="43" y1="493.5" x2="47" y2="493.5" stroke="#111" stroke-width="1.2"/><text x="40.4" y="497.7" class="tk" text-anchor="end">0</text><line x1="43" y1="462.79" x2="47" y2="462.79" stroke="#111" stroke-width="1.2"/><text x="40.4" y="466.99" class="tk" text-anchor="end">10</text><line x1="43" y1="432.07" x2="47" y2="432.07" stroke="#111" stroke-width="1.2"/><text x="40.4" y="436.27" class="tk" text-anchor="end">20</text><line x1="43" y1="401.36" x2="47" y2="401.36" stroke="#111" stroke-width="1.2"/><text x="40.4" y="405.56" class="tk" text-anchor="end">30</text><line x1="43" y1="370.64" x2="47" y2="370.64" stroke="#111" stroke-width="1.2"/><text x="40.4" y="374.84" class="tk" text-anchor="end">40</text><line x1="43" y1="339.93" x2="47" y2="339.93" stroke="#111" stroke-width="1.2"/><text x="40.4" y="344.13" class="tk" text-anchor="end">50</text><line x1="43" y1="309.21" x2="47" y2="309.21" stroke="#111" stroke-width="1.2"/><text x="40.4" y="313.41" class="tk" text-anchor="end">60</text><line x1="43" y1="278.5" x2="47" y2="278.5" stroke="#111" stroke-width="1.2"/><text x="40.4" y="282.7" class="tk" text-anchor="end">70</text><line x1="94.6" y1="493.5" x2="94.6" y2="497.5" stroke="#111" stroke-width="1.2"/><text x="94.6" y="509.6" class="tk" text-anchor="middle">1.85</text><line x1="190.45" y1="493.5" x2="190.45" y2="497.5" stroke="#111" stroke-width="1.2"/><text x="190.45" y="509.6" class="tk" text-anchor="middle">5.56</text><line x1="286.4" y1="493.5" x2="286.4" y2="497.5" stroke="#111" stroke-width="1.2"/><text x="286.4" y="509.6" class="tk" text-anchor="middle">9.27</text><text x="188.3" y="526.4" class="ti" text-anchor="middle">Cellulase dosage (mg/g)</text><text class="ti" text-anchor="middle" transform="translate(13.4,385.6) rotate(-90)">Inhibition degree (%)</text><text class="lb" transform="translate(56.2,304.6) scale(1.04,1)">(c)<tspan dx="0.5"> C</tspan></text><path d="M99.9,292.5 L113.8,292.5 L113.2,293.9 L100.5,293.9 Z" fill="#000"/><path d="M100.5,304.1 L113.2,304.1 L113.8,305.5 L99.9,305.5 Z" fill="#000"/><rect x="101.8" y="293.8" width="1.95" height="10.4" fill="#000"/><rect x="105.8" y="293.8" width="1.95" height="10.4" fill="#000"/><rect x="109.8" y="293.8" width="1.95" height="10.4" fill="#000"/><rect x="191.6" y="280.7" width="20.9" height="10.87" fill="url(#p0)" stroke="#000000" stroke-width="1"/><text x="215.2" y="289.2" class="lg">6h Control</text><rect x="191.6" y="292.57" width="20.9" height="10.87" fill="url(#p1)" stroke="#ff0000" stroke-width="1"/><text x="215.2" y="301.07" class="lg">6h 2g/L</text><rect x="191.6" y="304.44" width="20.9" height="10.87" fill="url(#p2)" stroke="#00ff00" stroke-width="1"/><text x="215.2" y="312.94" class="lg">6h 4g/L</text><rect x="191.6" y="316.31" width="20.9" height="10.87" fill="url(#p3)" stroke="#0000ff" stroke-width="1"/><text x="215.2" y="324.81" class="lg">6h 6g/L</text><rect x="191.6" y="328.18" width="20.9" height="10.87" fill="url(#p4)" stroke="#00ffff" stroke-width="1"/><text x="215.2" y="336.68" class="lg">6h 8g/L</text><rect x="191.6" y="340.05" width="20.9" height="10.87" fill="url(#p5)" stroke="#ff00ff" stroke-width="1"/><text x="215.2" y="348.55" class="lg">6h 10g/L</text><rect x="261.4" y="280.7" width="20.9" height="10.87" fill="url(#p6)" stroke="#ffff00" stroke-width="1"/><text x="285.8" y="289.2" class="lg">72h Control</text><rect x="261.4" y="292.57" width="20.9" height="10.87" fill="url(#p7)" stroke="#808000" stroke-width="1"/><text x="285.8" y="301.07" class="lg">72h 2g/L</text><rect x="261.4" y="304.44" width="20.9" height="10.87" fill="url(#p8)" stroke="#000080" stroke-width="1"/><text x="285.8" y="312.94" class="lg">72h 4g/L</text><rect x="261.4" y="316.31" width="20.9" height="10.87" fill="url(#p9)" stroke="#800080" stroke-width="1"/><text x="285.8" y="324.81" class="lg">72h 6g/L</text><rect x="261.4" y="328.18" width="20.9" height="10.87" fill="url(#p10)" stroke="#800000" stroke-width="1"/><text x="285.8" y="336.68" class="lg">72h 8g/L</text><rect x="261.4" y="340.05" width="20.9" height="10.87" fill="url(#p11)" stroke="#008000" stroke-width="1"/><text x="285.8" y="348.55" class="lg">72h 10g/L</text><pattern id="d0_1" href="#p1" x="412.8" y="478.63"/><rect x="412.8" y="478.63" width="6.4" height="12.64" fill="url(#d0_1)" stroke="#ff0000" stroke-width="1.2"/><pattern id="d0_2" href="#p2" x="419.2" y="478.63"/><rect x="419.2" y="463.49" width="6.4" height="15.15" fill="url(#d0_2)" stroke="#00ff00" stroke-width="1.2"/><pattern id="d0_3" href="#p3" x="425.6" y="478.63"/><rect x="425.6" y="478.63" width="6.4" height="5.03" fill="url(#d0_3)" stroke="#0000ff" stroke-width="1.2"/><pattern id="d0_4" href="#p4" x="432.9" y="478.63"/><rect x="432" y="478.63" width="6.4" height="1.87" fill="url(#d0_4)" stroke="#00ffff" stroke-width="1.2"/><pattern id="d0_5" href="#p5" x="438.7" y="478.63"/><rect x="438.4" y="478.63" width="6.4" height="1.87" fill="url(#d0_5)" stroke="#ff00ff" stroke-width="1.2"/><pattern id="d0_7" href="#p7" x="451.2" y="478.63"/><rect x="451.2" y="447.11" width="6.4" height="31.52" fill="url(#d0_7)" stroke="#808000" stroke-width="1.2"/><pattern id="d0_8" href="#p8" x="458.1" y="476.08"/><rect x="457.6" y="438.49" width="6.4" height="40.14" fill="url(#d0_8)" stroke="#000080" stroke-width="1.2"/><pattern id="d0_9" href="#p9" x="464" y="477.53"/><rect x="464" y="436.19" width="6.4" height="42.44" fill="url(#d0_9)" stroke="#800080" stroke-width="1.2"/><pattern id="d0_10" href="#p10" x="470.25" y="478.63"/><rect x="470.4" y="430.45" width="6.4" height="48.19" fill="url(#d0_10)" stroke="#800000" stroke-width="1.2"/><pattern id="d0_11" href="#p11" x="476" y="477.38"/><rect x="476.8" y="420.1" width="6.4" height="58.53" fill="url(#d0_11)" stroke="#008000" stroke-width="1.2"/><path d="M422.4,449.12 V477.85 M420.1,449.12 H424.7 M420.1,477.85 H424.7" stroke="#00ff00" stroke-width="0.95" fill="none"/><path d="M428.8,479.35 V487.97 M426.5,479.35 H431.1 M426.5,487.97 H431.1" stroke="#0000ff" stroke-width="0.95" fill="none"/><path d="M435.2,472.02 V488.97 M432.9,472.02 H437.5 M432.9,488.97 H437.5" stroke="#00ffff" stroke-width="0.95" fill="none"/><path d="M441.6,467 V494 M439.3,467 H443.9 M439.3,494 H443.9" stroke="#ff00ff" stroke-width="0.95" fill="none"/><path d="M454.4,432.74 V461.47 M452.1,432.74 H456.7 M452.1,461.47 H456.7" stroke="#808000" stroke-width="0.95" fill="none"/><path d="M460.8,429.01 V447.97 M458.5,429.01 H463.1 M458.5,447.97 H463.1" stroke="#000080" stroke-width="0.95" fill="none"/><path d="M467.2,429.01 V443.37 M464.9,429.01 H469.5 M464.9,443.37 H469.5" stroke="#800080" stroke-width="0.95" fill="none"/><path d="M473.6,424.41 V436.48 M471.3,424.41 H475.9 M471.3,436.48 H475.9" stroke="#800000" stroke-width="0.95" fill="none"/><path d="M480,416.94 V423.26 M477.7,416.94 H482.3 M477.7,423.26 H482.3" stroke="#008000" stroke-width="0.95" fill="none"/><pattern id="d1_1" href="#p1" x="508.6" y="478.63"/><rect x="508.6" y="478.63" width="6.4" height="2.15" fill="url(#d1_1)" stroke="#ff0000" stroke-width="1.2"/><pattern id="d1_2" href="#p2" x="515" y="478.63"/><rect x="515" y="476.7" width="6.4" height="1.93" fill="url(#d1_2)" stroke="#00ff00" stroke-width="1.2"/><pattern id="d1_3" href="#p3" x="521.4" y="478.63"/><rect x="521.4" y="471.53" width="6.4" height="7.1" fill="url(#d1_3)" stroke="#0000ff" stroke-width="1.2"/><pattern id="d1_4" href="#p4" x="528.7" y="478.63"/><rect x="527.8" y="464.92" width="6.4" height="13.71" fill="url(#d1_4)" stroke="#00ffff" stroke-width="1.2"/><pattern id="d1_5" href="#p5" x="534.5" y="478.63"/><rect x="534.2" y="442.23" width="6.4" height="36.41" fill="url(#d1_5)" stroke="#ff00ff" stroke-width="1.2"/><pattern id="d1_7" href="#p7" x="547" y="478.63"/><rect x="547" y="463.77" width="6.4" height="14.86" fill="url(#d1_7)" stroke="#808000" stroke-width="1.2"/><pattern id="d1_8" href="#p8" x="553.9" y="476.08"/><rect x="553.4" y="456.59" width="6.4" height="22.04" fill="url(#d1_8)" stroke="#000080" stroke-width="1.2"/><pattern id="d1_9" href="#p9" x="559.8" y="477.53"/><rect x="559.8" y="466.36" width="6.4" height="12.27" fill="url(#d1_9)" stroke="#800080" stroke-width="1.2"/><pattern id="d1_10" href="#p10" x="566.05" y="478.63"/><rect x="566.2" y="462.34" width="6.4" height="16.3" fill="url(#d1_10)" stroke="#800000" stroke-width="1.2"/><pattern id="d1_11" href="#p11" x="571.8" y="477.38"/><rect x="572.6" y="449.12" width="6.4" height="29.51" fill="url(#d1_11)" stroke="#008000" stroke-width="1.2"/><path d="M511.8,478.49 V483.08 M509.5,478.49 H514.1 M509.5,483.08 H514.1" stroke="#ff0000" stroke-width="0.95" fill="none"/><path d="M518.2,472.39 V481.01 M515.9,472.39 H520.5 M515.9,481.01 H520.5" stroke="#00ff00" stroke-width="0.95" fill="none"/><path d="M531,460.33 V469.52 M528.7,460.33 H533.3 M528.7,469.52 H533.3" stroke="#00ffff" stroke-width="0.95" fill="none"/><path d="M537.4,440.79 V443.66 M535.1,440.79 H539.7 M535.1,443.66 H539.7" stroke="#ff00ff" stroke-width="0.95" fill="none"/><path d="M556.6,453.14 V460.04 M554.3,453.14 H558.9 M554.3,460.04 H558.9" stroke="#000080" stroke-width="0.95" fill="none"/><path d="M563,460.9 V471.82 M560.7,460.9 H565.3 M560.7,471.82 H565.3" stroke="#800080" stroke-width="0.95" fill="none"/><path d="M569.4,456.59 V468.08 M567.1,456.59 H571.7 M567.1,468.08 H571.7" stroke="#800000" stroke-width="0.95" fill="none"/><path d="M575.8,445.67 V452.57 M573.5,445.67 H578.1 M573.5,452.57 H578.1" stroke="#008000" stroke-width="0.95" fill="none"/><pattern id="d2_1" href="#p1" x="604.4" y="478.63"/><rect x="604.4" y="465.5" width="6.4" height="13.14" fill="url(#d2_1)" stroke="#ff0000" stroke-width="1.2"/><pattern id="d2_2" href="#p2" x="610.8" y="478.63"/><rect x="610.8" y="464.92" width="6.4" height="13.71" fill="url(#d2_2)" stroke="#00ff00" stroke-width="1.2"/><pattern id="d2_3" href="#p3" x="617.2" y="478.63"/><rect x="617.2" y="453.72" width="6.4" height="24.92" fill="url(#d2_3)" stroke="#0000ff" stroke-width="1.2"/><pattern id="d2_4" href="#p4" x="624.5" y="478.63"/><rect x="623.6" y="442.51" width="6.4" height="36.12" fill="url(#d2_4)" stroke="#00ffff" stroke-width="1.2"/><pattern id="d2_5" href="#p5" x="630.3" y="478.63"/><rect x="630" y="423.26" width="6.4" height="55.37" fill="url(#d2_5)" stroke="#ff00ff" stroke-width="1.2"/><pattern id="d2_7" href="#p7" x="642.8" y="478.63"/><rect x="642.8" y="468.66" width="6.4" height="9.98" fill="url(#d2_7)" stroke="#808000" stroke-width="1.2"/><pattern id="d2_8" href="#p8" x="649.7" y="476.08"/><rect x="649.2" y="460.33" width="6.4" height="18.31" fill="url(#d2_8)" stroke="#000080" stroke-width="1.2"/><pattern id="d2_9" href="#p9" x="655.6" y="477.53"/><rect x="655.6" y="454" width="6.4" height="24.63" fill="url(#d2_9)" stroke="#800080" stroke-width="1.2"/><pattern id="d2_10" href="#p10" x="661.85" y="478.63"/><rect x="662" y="446.54" width="6.4" height="32.1" fill="url(#d2_10)" stroke="#800000" stroke-width="1.2"/><pattern id="d2_11" href="#p11" x="667.6" y="477.38"/><rect x="668.4" y="444.24" width="6.4" height="34.4" fill="url(#d2_11)" stroke="#008000" stroke-width="1.2"/><path d="M607.6,462.62 V468.37 M605.3,462.62 H609.9 M605.3,468.37 H609.9" stroke="#ff0000" stroke-width="0.95" fill="none"/><path d="M620.4,447.4 V460.04 M618.1,447.4 H622.7 M618.1,460.04 H622.7" stroke="#0000ff" stroke-width="0.95" fill="none"/><path d="M626.8,439.07 V445.96 M624.5,439.07 H629.1 M624.5,445.96 H629.1" stroke="#00ffff" stroke-width="0.95" fill="none"/><path d="M633.2,420.97 V425.56 M630.9,420.97 H635.5 M630.9,425.56 H635.5" stroke="#ff00ff" stroke-width="0.95" fill="none"/><path d="M652.4,456.59 V464.06 M650.1,456.59 H654.7 M650.1,464.06 H654.7" stroke="#000080" stroke-width="0.95" fill="none"/><path d="M658.8,449.7 V458.31 M656.5,449.7 H661.1 M656.5,458.31 H661.1" stroke="#800080" stroke-width="0.95" fill="none"/><path d="M665.2,442.8 V450.27 M662.9,442.8 H667.5 M662.9,450.27 H667.5" stroke="#800000" stroke-width="0.95" fill="none"/><line x1="396.5" y1="478.63" x2="684" y2="478.63" stroke="#000" stroke-width="1.3"/><rect x="396.5" y="277.5" width="287.5" height="215.5" fill="none" stroke="#000" stroke-width="1.1"/><line x1="392.5" y1="478.63" x2="396.5" y2="478.63" stroke="#111" stroke-width="1.2"/><text x="389.9" y="482.83" class="tk" text-anchor="end">0</text><line x1="392.5" y1="449.9" x2="396.5" y2="449.9" stroke="#111" stroke-width="1.2"/><text x="389.9" y="454.1" class="tk" text-anchor="end">10</text><line x1="392.5" y1="421.17" x2="396.5" y2="421.17" stroke="#111" stroke-width="1.2"/><text x="389.9" y="425.37" class="tk" text-anchor="end">20</text><line x1="392.5" y1="392.43" x2="396.5" y2="392.43" stroke="#111" stroke-width="1.2"/><text x="389.9" y="396.63" class="tk" text-anchor="end">30</text><line x1="392.5" y1="363.7" x2="396.5" y2="363.7" stroke="#111" stroke-width="1.2"/><text x="389.9" y="367.9" class="tk" text-anchor="end">40</text><line x1="392.5" y1="334.97" x2="396.5" y2="334.97" stroke="#111" stroke-width="1.2"/><text x="389.9" y="339.17" class="tk" text-anchor="end">50</text><line x1="392.5" y1="306.23" x2="396.5" y2="306.23" stroke="#111" stroke-width="1.2"/><text x="389.9" y="310.43" class="tk" text-anchor="end">60</text><line x1="392.5" y1="277.5" x2="396.5" y2="277.5" stroke="#111" stroke-width="1.2"/><text x="389.9" y="281.7" class="tk" text-anchor="end">70</text><line x1="444.4" y1="493" x2="444.4" y2="497" stroke="#111" stroke-width="1.2"/><text x="444.4" y="509.4" class="tk" text-anchor="middle">1.85</text><line x1="540.2" y1="493" x2="540.2" y2="497" stroke="#111" stroke-width="1.2"/><text x="540.2" y="509.4" class="tk" text-anchor="middle">5.56</text><line x1="636.2" y1="493" x2="636.2" y2="497" stroke="#111" stroke-width="1.2"/><text x="636.2" y="509.4" class="tk" text-anchor="middle">9.27</text><text x="537.9" y="525.5" class="ti" text-anchor="middle">Cellulase dosage (mg/g)</text><text class="ti" text-anchor="middle" transform="translate(365.5,384.9) rotate(-90)">Inhibition degree (%)</text><text class="lb" transform="translate(406.5,301.9) scale(1.05,1)">(d)<tspan dx="1.2"> AC</tspan></text><rect x="541.2" y="280.5" width="20.9" height="10.87" fill="url(#p0)" stroke="#000000" stroke-width="1"/><text x="564.9" y="289" class="lg">6h Control</text><rect x="541.2" y="292.37" width="20.9" height="10.87" fill="url(#p1)" stroke="#ff0000" stroke-width="1"/><text x="564.9" y="300.87" class="lg">6h 2g/L</text><rect x="541.2" y="304.24" width="20.9" height="10.87" fill="url(#p2)" stroke="#00ff00" stroke-width="1"/><text x="564.9" y="312.74" class="lg">6h 4g/L</text><rect x="541.2" y="316.11" width="20.9" height="10.87" fill="url(#p3)" stroke="#0000ff" stroke-width="1"/><text x="564.9" y="324.61" class="lg">6h 6g/L</text><rect x="541.2" y="327.98" width="20.9" height="10.87" fill="url(#p4)" stroke="#00ffff" stroke-width="1"/><text x="564.9" y="336.48" class="lg">6h 8g/L</text><rect x="541.2" y="339.85" width="20.9" height="10.87" fill="url(#p5)" stroke="#ff00ff" stroke-width="1"/><text x="564.9" y="348.35" class="lg">6h 10g/L</text><rect x="611.3" y="280.5" width="20.9" height="10.87" fill="url(#p6)" stroke="#ffff00" stroke-width="1"/><text x="635.3" y="289" class="lg">72h Control</text><rect x="611.3" y="292.37" width="20.9" height="10.87" fill="url(#p7)" stroke="#808000" stroke-width="1"/><text x="635.3" y="300.87" class="lg">72h 2g/L</text><rect x="611.3" y="304.24" width="20.9" height="10.87" fill="url(#p8)" stroke="#000080" stroke-width="1"/><text x="635.3" y="312.74" class="lg">72h 4g/L</text><rect x="611.3" y="316.11" width="20.9" height="10.87" fill="url(#p9)" stroke="#800080" stroke-width="1"/><text x="635.3" y="324.61" class="lg">72h 6g/L</text><rect x="611.3" y="327.98" width="20.9" height="10.87" fill="url(#p10)" stroke="#800000" stroke-width="1"/><text x="635.3" y="336.48" class="lg">72h 8g/L</text><rect x="611.3" y="339.85" width="20.9" height="10.87" fill="url(#p11)" stroke="#008000" stroke-width="1"/><text x="635.3" y="348.35" class="lg">72h 10g/L</text>
</svg></body></html>
